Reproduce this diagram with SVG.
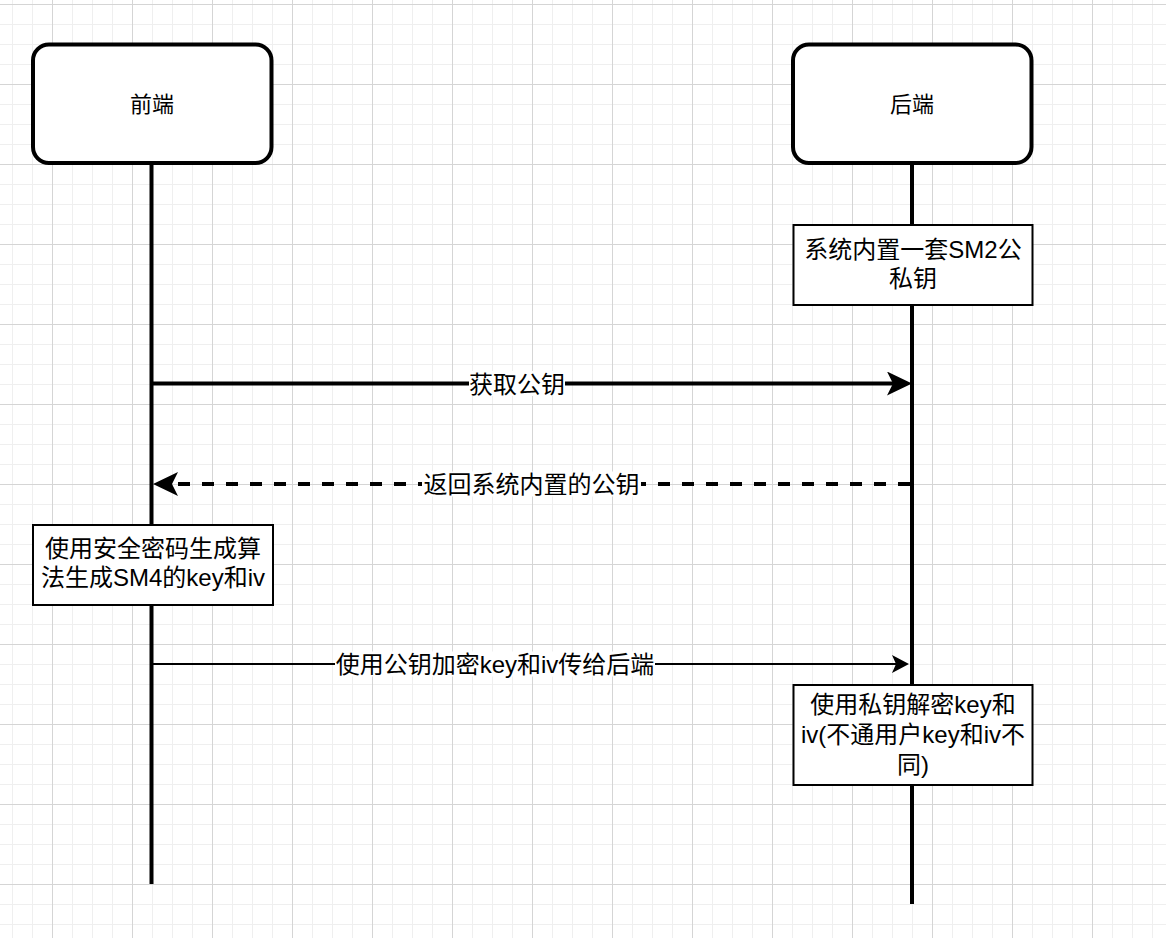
<svg xmlns="http://www.w3.org/2000/svg" width="1166" height="938" viewBox="0 0 1166 938">
  <defs>
    <pattern id="minor" patternUnits="userSpaceOnUse" x="12" y="4" width="20" height="20">
      <path d="M0 0.5 H20 M0.5 0 V20" stroke="#efefef" stroke-width="1" fill="none"/>
    </pattern>
    <pattern id="major" patternUnits="userSpaceOnUse" x="52" y="4" width="80" height="80">
      <path d="M0 0.5 H80 M0.5 0 V80" stroke="#d5d5d5" stroke-width="1" fill="none"/>
    </pattern>
    <marker id="arrowBig" markerUnits="userSpaceOnUse" markerWidth="30" markerHeight="30" refX="13" refY="12" orient="auto">
      <path d="M0 0 L25 12 L0 24 L6 12 Z" fill="#000"/>
    </marker>
    <marker id="arrowSmall" markerUnits="userSpaceOnUse" markerWidth="20" markerHeight="20" refX="10" refY="9" orient="auto">
      <path d="M0 0 L17 9 L0 18 L4 9 Z" fill="#000"/>
    </marker>
    <style>
      text { font-family: "Liberation Sans", "Noto Sans CJK SC", sans-serif; font-size: 24px; fill: #000; text-anchor: middle; dominant-baseline: central; }
      text.h { font-size: 22px; }
      .head { fill: #fff; stroke: #000; stroke-width: 4; }
      .note { fill: #fff; stroke: #000; stroke-width: 2; }
      .life { stroke: #000; stroke-width: 4; fill: none; }
      .msg { stroke: #000; fill: none; }
      .lblbg { fill: #fff; }
    </style>
  </defs>

  <rect width="1166" height="938" fill="#fff"/>
  <rect width="1166" height="938" fill="url(#minor)"/>
  <rect width="1166" height="938" fill="url(#major)"/>

  <g id="lifelines">
    <line class="life" x1="151.5" y1="163" x2="151.5" y2="884"/>
    <line class="life" x1="912" y1="163" x2="912" y2="904"/>
  </g>

  <g id="frontend">
    <rect class="head" x="33" y="44.5" width="238.5" height="118.5" rx="16"/>
    <text class="h" x="152" y="104">前端</text>
  </g>

  <g id="backend">
    <rect class="head" x="793" y="44.5" width="238.5" height="118.5" rx="16"/>
    <text class="h" x="912" y="104">后端</text>
  </g>

  <g id="note-sm2">
    <rect class="note" x="793.5" y="225" width="239" height="80"/>
    <text x="913" y="249">系统内置一套SM2公</text>
    <text x="913" y="278">私钥</text>
  </g>

  <g id="note-sm4">
    <rect class="note" x="33" y="525" width="240" height="80"/>
    <text x="153" y="548">使用安全密码生成算</text>
    <text x="153" y="577">法生成SM4的key和iv</text>
  </g>

  <g id="note-decrypt">
    <rect class="note" x="793.5" y="685" width="239" height="100"/>
    <text x="913" y="704">使用私钥解密key和</text>
    <text x="913" y="734">iv(不通用户key和iv不</text>
    <text x="913" y="764">同)</text>
  </g>

  <g id="connectors">
    <g id="msg-get-key">
      <line class="msg" x1="153" y1="383.5" x2="900" y2="383.5" stroke-width="4" marker-end="url(#arrowBig)"/>
      <rect class="lblbg" x="469" y="371" width="96" height="25"/>
      <text x="517" y="384">获取公钥</text>
    </g>
    <g id="msg-return-key">
      <line class="msg" x1="910" y1="484" x2="165" y2="484" stroke-width="4" stroke-dasharray="12 12" marker-end="url(#arrowBig)"/>
      <rect class="lblbg" x="422" y="471.5" width="219" height="25"/>
      <text x="531.5" y="484">返回系统内置的公钥</text>
    </g>
    <g id="msg-send-key">
      <line class="msg" x1="153" y1="664" x2="902" y2="664" stroke-width="2" marker-end="url(#arrowSmall)"/>
      <rect class="lblbg" x="335" y="651.5" width="320" height="25"/>
      <text x="495" y="664">使用公钥加密key和iv传给后端</text>
    </g>
  </g>
</svg>
